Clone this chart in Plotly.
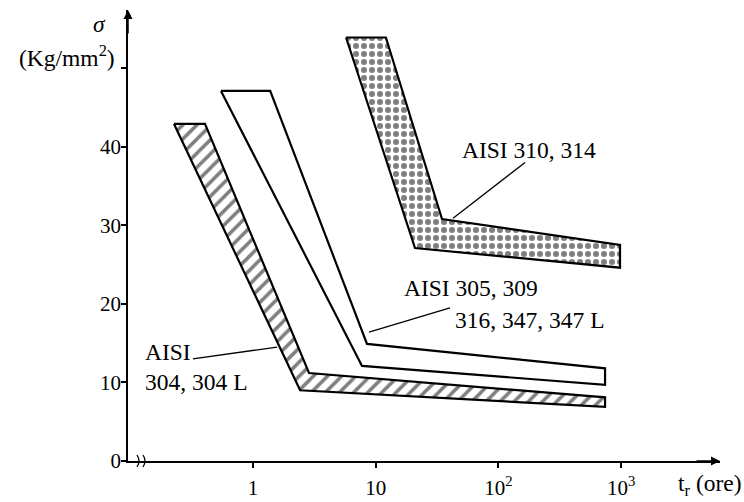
import math
import plotly.graph_objects as go

# ---- data (t in ore, sigma in Kg/mm^2) ----
# each band: upper boundary and lower boundary, from top of the steep part to the end
aisi304_upper_t = [0.406, 2.86, 740]
aisi304_upper_s = [42.9, 11.2, 8.1]
aisi304_lower_t = [0.227, 2.42, 740]
aisi304_lower_s = [42.9, 9.0, 6.9]

aisi305_upper_t = [1.38, 8.49, 740]
aisi305_upper_s = [47.1, 14.9, 11.8]
aisi305_lower_t = [0.548, 7.73, 740]
aisi305_lower_s = [47.1, 12.1, 9.7]

aisi310_upper_t = [12.1, 34.7, 980]
aisi310_upper_s = [53.9, 30.8, 27.5]
aisi310_lower_t = [5.73, 20.9, 980]
aisi310_lower_s = [53.9, 27.1, 24.6]

x_tickvals = [1, 10, 100, 1000]
x_ticktext = ["1", "10", "10<sup>2</sup>", "10<sup>3</sup>"]
y_tickvals = [0, 10, 20, 30, 40, 50]
y_ticktext = ["0", "10", "20", "30", "40", ""]

FONT = "Liberation Serif"
FS = 23.5
TICK_FS = 21


def band(ut, us, lt, ls):
    xs = [lt[0]] + ut + lt[::-1]
    ys = [ls[0]] + us + ls[::-1]
    return xs, ys


fig = go.Figure()

x, y = band(aisi304_upper_t, aisi304_upper_s, aisi304_lower_t, aisi304_lower_s)
fig.add_trace(go.Scatter(x=x, y=y, mode="lines", fill="toself", fillcolor="white",
                         line=dict(color="black", width=2.2),
                         fillpattern=dict(shape="/", fgcolor="black", bgcolor="white",
                                          size=10, solidity=0.35),
                         hoverinfo="skip", showlegend=False))

x, y = band(aisi305_upper_t, aisi305_upper_s, aisi305_lower_t, aisi305_lower_s)
fig.add_trace(go.Scatter(x=x, y=y, mode="lines", fill="toself", fillcolor="white",
                         line=dict(color="black", width=2.2),
                         hoverinfo="skip", showlegend=False))

x, y = band(aisi310_upper_t, aisi310_upper_s, aisi310_lower_t, aisi310_lower_s)
fig.add_trace(go.Scatter(x=x, y=y, mode="lines", fill="toself", fillcolor="white",
                         line=dict(color="black", width=2.2),
                         fillpattern=dict(shape=".", fgcolor="black", bgcolor="white",
                                          size=8, solidity=0.45),
                         hoverinfo="skip", showlegend=False))

# leader lines
leaders = [
    ([165, 42.7], [38.0, 30.9]),
    ([40.3, 8.82], [19.5, 16.4]),
    ([0.324, 1.57], [13.0, 14.5]),
]
for lx, ly in leaders:
    fig.add_trace(go.Scatter(x=lx, y=ly, mode="lines", line=dict(color="black", width=1.3),
                             hoverinfo="skip", showlegend=False))

labels = [
    ("AISI 310, 314", 48.6, 39.6),
    ("AISI 305, 309", 16.4, 22.0),
    ("316, 347, 347 L", 42.7, 17.9),
    ("AISI", 0.127, 13.9),
    ("304, 304 L", 0.127, 10.1),
]
for txt, lx, ly in labels:
    fig.add_annotation(x=math.log10(lx), y=ly, xref="x", yref="y", text=txt,
                       showarrow=False, xanchor="left", yanchor="middle",
                       font=dict(family=FONT, size=FS, color="black"))

xrange = [-1.019, 3.806]
yrange = [0, 57.4]

fig.update_layout(
    width=744, height=502, autosize=False,
    margin=dict(l=128, r=24, t=10, b=41),
    paper_bgcolor="white", plot_bgcolor="white",
    font=dict(family=FONT, size=TICK_FS, color="black"),
    xaxis=dict(type="log", range=xrange, showgrid=False, zeroline=False,
               automargin=False,
               showline=True, linecolor="black", linewidth=1.5,
               tickvals=x_tickvals, ticktext=x_ticktext,
               ticks="outside", ticklen=5, tickwidth=1.5, tickcolor="black",
               ticklabelstandoff=2),
    yaxis=dict(range=yrange, showgrid=False, zeroline=False,
               automargin=False,
               showline=True, linecolor="black", linewidth=1.5,
               tickvals=y_tickvals, ticktext=y_ticktext,
               ticks="outside", ticklen=5, tickwidth=1.5, tickcolor="black",
               ticklabelstandoff=-4),
    xaxis2=dict(type="log", range=xrange, overlaying="x", anchor="y", showgrid=False,
                automargin=False,
                zeroline=False, showline=False, tickvals=x_tickvals,
                ticks="inside", ticklen=5, tickwidth=1.5, tickcolor="black",
                showticklabels=False),
    yaxis2=dict(range=yrange, overlaying="y", anchor="x", showgrid=False,
                automargin=False,
                zeroline=False, showline=False, tickvals=y_tickvals,
                ticks="inside", ticklen=5, tickwidth=1.5, tickcolor="black",
                showticklabels=False),
)

# axis arrows
fig.add_annotation(x=0, y=1, xref="paper", yref="paper", ax=0, ay=25,
                   showarrow=True, arrowhead=2, arrowsize=1.2, arrowwidth=1.5,
                   arrowcolor="black", text="")
fig.add_annotation(x=1, y=0, xref="paper", yref="paper", ax=-25, ay=0,
                   showarrow=True, arrowhead=2, arrowsize=1.2, arrowwidth=1.5,
                   arrowcolor="black", text="")

# axis titles
fig.add_annotation(x=0, y=0.968, xref="paper", yref="paper", xanchor="right",
                   yanchor="middle", xshift=-20, text="<i>σ</i>", showarrow=False,
                   font=dict(family=FONT, size=FS))
fig.add_annotation(x=0, y=0.898, xref="paper", yref="paper", xanchor="right",
                   yanchor="middle", xshift=-11, text="(Kg/mm<sup>2</sup>)",
                   showarrow=False, font=dict(family=FONT, size=FS))
fig.add_annotation(x=1, y=-0.054, xref="paper", yref="paper", xanchor="right",
                   yanchor="middle", xshift=24, text="t<sub>r</sub> (ore)",
                   showarrow=False, font=dict(family=FONT, size=FS))

# axis break marks near the origin
for px in (9, 15):
    fig.add_shape(type="path", xref="paper", yref="paper", xsizemode="pixel",
                  ysizemode="pixel", xanchor=0, yanchor=0,
                  path=f"M {px},6 Q {px+4},0 {px},-6",
                  line=dict(color="black", width=1.3))

fig.write_html("out.html",
               config={"responsive": False, "displayModeBar": False},
               post_script="document.body.style.margin='0';"
                           "document.body.style.overflow='hidden';")
